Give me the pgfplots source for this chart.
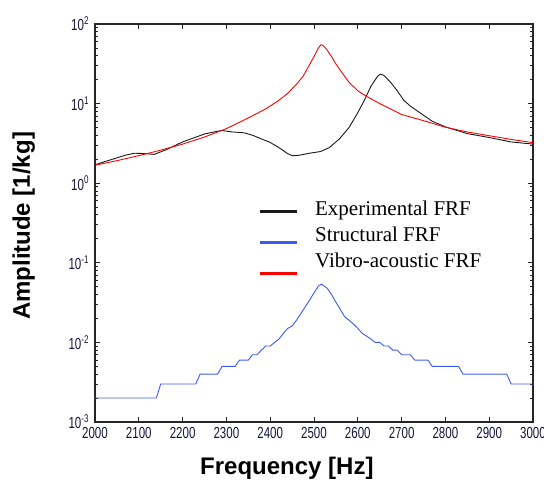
\documentclass[border=0pt]{standalone}
\usepackage{fontspec}
\setmainfont{Liberation Serif}
\newfontfamily\arialfont{Liberation Sans}
\usepackage{pgfplots}
\pgfplotsset{compat=1.18}
\definecolor{cblue}{RGB}{60,90,245}
\definecolor{cred}{RGB}{255,0,0}
\definecolor{cblack}{RGB}{25,25,25}
\definecolor{tickcol}{RGB}{20,20,60}
\begin{document}
\begin{tikzpicture}
\begin{axis}[
  name=main,
  scale only axis,
  width=438pt, height=398pt,
  ymode=log,
  xmin=2000, xmax=3000, ymin=1e-3, ymax=1e2,
  xtick={2000,2100,2200,2300,2400,2500,2600,2700,2800,2900,3000},
  xticklabels={2000,2100,2200,2300,2400,2500,2600,2700,2800,2900,3000},
  ytick={1e-3,1e-2,1e-1,1,10,100},
  yticklabels={10\textsuperscript{-3},10\textsuperscript{-2},10\textsuperscript{-1},10\textsuperscript{0},10\textsuperscript{1},10\textsuperscript{2}},
  tick align=inside,
  major tick length=5pt, minor tick length=3pt,
  every tick/.style={black!85, line width=0.8pt},
  axis line style={black!85, line width=1.2pt},
  ticklabel style={font=\arialfont\fontsize{16}{18}\selectfont, xscale=0.72, text=tickcol},
  xticklabel style={yshift=-2pt},
  yticklabel style={xshift=-5pt},
  xlabel={Frequency [Hz]},
  ylabel={Amplitude [1/kg]},
  label style={font=\arialfont\bfseries\fontsize{24}{28}\selectfont},
  xlabel style={at={(axis description cs:0.438,-0.133)}, anchor=base},
  ylabel style={at={(axis description cs:-0.163,0.4925)}, anchor=center},
  legend style={draw=none, fill=none, at={(axis description cs:0.372,0.560)}, anchor=north west,
    font=\fontsize{21}{25}\selectfont, inner sep=0pt, row sep=5.5pt,
    /tikz/every odd column/.append style={column sep=15pt}},
  legend cell align=left,
]
\addplot[cblack, line width=0.9pt,
  legend image code/.code={\draw[cblack, line width=3pt] (0pt,-2pt) -- (37pt,-2pt);}] coordinates {
(2000,1.7) (2020,1.85) (2040,2.0) (2070,2.25) (2090,2.38) (2110,2.36) (2135,2.3)
(2160,2.6) (2200,3.3) (2250,4.15) (2280,4.5) (2290,4.6) (2310,4.42) (2340,4.3)
(2360,4.0) (2380,3.6) (2400,3.25) (2420,2.8) (2440,2.35) (2450,2.22) (2465,2.24)
(2490,2.38) (2515,2.5) (2535,2.8) (2558,3.6) (2580,5.0) (2600,7.7) (2615,11.0)
(2630,16.5) (2645,22) (2652,23.5) (2660,22.5) (2675,18.5) (2690,14.5) (2705,11.0)
(2720,9.3) (2740,7.8) (2770,6.0) (2800,5.1) (2850,4.2) (2900,3.75) (2950,3.3) (3000,3.1)
};
\addlegendentry{Experimental FRF}
\addplot[cblue, line width=0.9pt,
  legend image code/.code={\draw[cblue, line width=3pt] (0pt,-7.5pt) -- (37pt,-7.5pt);}] coordinates {
(2000,0.002) (2140,0.002) (2150,0.003) (2230,0.003) (2240,0.004) (2280,0.004)
(2290,0.005) (2320,0.005) (2330,0.006) (2350,0.006) (2360,0.007) (2370,0.007)
(2380,0.008) (2390,0.009) (2400,0.009) (2410,0.010) (2420,0.011) (2430,0.013)
(2440,0.015) (2450,0.016) (2460,0.019) (2470,0.023) (2480,0.028) (2490,0.034)
(2500,0.042) (2510,0.051) (2517,0.054) (2530,0.048) (2540,0.040) (2550,0.032)
(2560,0.026) (2570,0.021) (2580,0.019) (2590,0.017) (2600,0.015) (2610,0.013)
(2620,0.012) (2630,0.011) (2640,0.010) (2650,0.010) (2660,0.009) (2670,0.009)
(2680,0.008) (2690,0.008) (2700,0.007) (2720,0.007) (2730,0.006) (2760,0.006)
(2770,0.005) (2830,0.005) (2840,0.004) (2940,0.004) (2950,0.003) (3000,0.003)
};
\addlegendentry{Structural FRF}
\addplot[cred, line width=0.9pt,
  legend image code/.code={\draw[cred, line width=3pt] (0pt,-13pt) -- (37pt,-13pt);}] coordinates {
(2000,1.68) (2050,1.92) (2100,2.22) (2150,2.6) (2200,3.1) (2250,3.8) (2300,4.85)
(2350,6.6) (2390,8.6) (2420,11.0) (2440,13.5) (2460,17.5) (2475,22) (2490,31)
(2500,39) (2510,50) (2516,55) (2522,53) (2530,47) (2540,39) (2550,31.5) (2565,24)
(2580,18.5) (2600,14.5) (2620,12.3) (2650,10) (2700,7.3) (2750,6.1) (2800,5.05)
(2850,4.4) (2900,3.95) (2950,3.55) (3000,3.23)
};
\addlegendentry{Vibro-acoustic FRF}
\end{axis}
\pgfresetboundingbox
\path[use as bounding box] ([xshift=-95pt,yshift=-63pt]main.south west) rectangle ([xshift=11pt,yshift=24pt]main.north east);
\end{tikzpicture}
\end{document}
